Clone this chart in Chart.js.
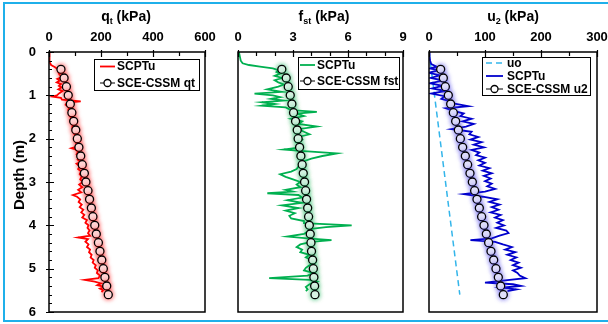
<!DOCTYPE html>
<html>
<head>
<meta charset="utf-8">
<script src="https://cdn.jsdelivr.net/npm/chart.js@4.4.0/dist/chart.umd.min.js"></script>
<style>
  html, body { margin: 0; padding: 0; background: #fff; }
  #wrap { position: relative; width: 608px; height: 324px; overflow: hidden;
          font-family: Arial, "Liberation Sans", sans-serif; font-weight: bold; color: #000; }
  #wrap canvas { position: absolute; left: 0; top: 0; }
  .frame { position: absolute; left: 3px; top: 2px; width: 615px; height: 320px;
           border: 2px solid #1fb0ea; box-sizing: border-box; pointer-events: none; }
  .ttl { position: absolute; top: 8px; font-size: 14px; line-height: 16px; white-space: nowrap;
         transform: translateX(-50%); }
  .ttl sub { font-size: 9px; vertical-align: -3px; line-height: 0; }
  .ylab { position: absolute; left: 18px; top: 175px; font-size: 15px; white-space: nowrap;
          transform: translate(-50%, -50%) rotate(-90deg); }
</style>
</head>
<body>
<div id="wrap">
  <canvas id="qtChart" width="608" height="324"></canvas>
  <canvas id="fstChart" width="608" height="324"></canvas>
  <canvas id="u2Chart" width="608" height="324"></canvas>
  <div class="ttl" style="left:126px">q<sub>t</sub> (kPa)</div>
  <div class="ttl" style="left:324px">f<sub>st</sub> (kPa)</div>
  <div class="ttl" style="left:513px">u<sub>2</sub> (kPa)</div>
  <div class="ylab">Depth (m)</div>
  <div class="frame"></div>
</div>
<script>
// --- data ---
// SCE-CSSM predictions, every 0.2 m
const cssmDepth = [0.4, 0.6, 0.8, 1.0, 1.2, 1.4, 1.6, 1.8, 2.0, 2.2, 2.4, 2.6, 2.8, 3.0, 3.2, 3.4, 3.6, 3.8, 4.0, 4.2, 4.4, 4.6, 4.8, 5.0, 5.2, 5.4, 5.6];
const cssmQt = [46, 58, 67, 74, 82, 88, 95, 103, 109, 115, 122, 128, 136, 142, 150, 156, 163, 169, 176, 182, 190, 196, 203, 209, 215, 222, 228];
const cssmFst = [2.39, 2.63, 2.74, 2.85, 2.94, 3.03, 3.14, 3.23, 3.28, 3.36, 3.43, 3.50, 3.56, 3.63, 3.69, 3.74, 3.80, 3.85, 3.89, 3.94, 3.98, 4.01, 4.07, 4.11, 4.14, 4.18, 4.20];
const cssmU2 = [20.8, 25.6, 29.2, 34.5, 38.7, 43.5, 47.6, 52.4, 56, 60.1, 64.9, 69, 73.2, 77.4, 81.5, 85.7, 89.9, 94, 98.2, 102.4, 106.5, 110.7, 115.5, 119.6, 123.8, 128, 132.7];

// SCPTu measurements
const qtDepth = [0, 0.05, 0.1, 0.15, 0.2, 0.25, 0.3, 0.34, 0.38, 0.42, 0.46, 0.52, 0.58, 0.62, 0.66, 0.7, 0.74, 0.78, 0.82, 0.86, 0.9, 0.95, 1.0, 1.03, 1.06, 1.1, 1.14, 1.17, 1.22, 1.28, 1.34, 1.4, 1.46, 1.52, 1.58, 1.64, 1.7, 1.76, 1.82, 1.88, 1.94, 2.0, 2.06, 2.12, 2.18, 2.22, 2.25, 2.3, 2.36, 2.42, 2.48, 2.54, 2.58, 2.64, 2.7, 2.76, 2.82, 2.88, 2.94, 3.0, 3.06, 3.12, 3.18, 3.24, 3.3, 3.34, 3.4, 3.46, 3.52, 3.58, 3.64, 3.7, 3.76, 3.82, 3.88, 3.94, 4.0, 4.06, 4.12, 4.18, 4.24, 4.28, 4.32, 4.38, 4.44, 4.5, 4.56, 4.62, 4.68, 4.74, 4.8, 4.86, 4.92, 4.98, 5.04, 5.1, 5.16, 5.22, 5.26, 5.3, 5.34, 5.38, 5.42, 5.46, 5.5, 5.54];
const qtScptu = [0, 1, 2, 2, 3, 4, 8, 20, 30, 44, 36, 40, 50, 32, 42, 30, 46, 38, 48, 36, 52, 40, 30, 14, 46, 50, 122, 70, 64, 78, 74, 82, 78, 86, 82, 88, 92, 90, 98, 96, 104, 100, 108, 104, 110, 86, 102, 112, 106, 116, 110, 120, 106, 118, 112, 124, 118, 126, 120, 130, 116, 128, 112, 124, 92, 108, 120, 114, 126, 118, 132, 124, 136, 128, 146, 140, 152, 148, 156, 150, 158, 112, 150, 140, 152, 146, 158, 154, 164, 160, 172, 168, 180, 176, 188, 184, 196, 190, 138, 176, 200, 186, 214, 196, 208, 202];

const fstDepth = [0, 0.1, 0.2, 0.26, 0.3, 0.34, 0.38, 0.42, 0.46, 0.5, 0.55, 0.6, 0.65, 0.7, 0.75, 0.8, 0.86, 0.92, 0.96, 1.0, 1.04, 1.08, 1.12, 1.16, 1.2, 1.24, 1.28, 1.34, 1.38, 1.42, 1.48, 1.54, 1.6, 1.66, 1.72, 1.78, 1.84, 1.9, 1.96, 2.02, 2.08, 2.14, 2.2, 2.25, 2.28, 2.34, 2.4, 2.46, 2.52, 2.58, 2.64, 2.7, 2.76, 2.82, 2.88, 2.94, 3.0, 3.06, 3.12, 3.18, 3.22, 3.26, 3.3, 3.36, 3.42, 3.48, 3.54, 3.6, 3.66, 3.72, 3.78, 3.84, 3.9, 3.95, 4.0, 4.04, 4.08, 4.14, 4.2, 4.26, 4.3, 4.34, 4.38, 4.44, 4.5, 4.56, 4.62, 4.68, 4.74, 4.8, 4.86, 4.92, 4.98, 5.04, 5.1, 5.16, 5.22, 5.26, 5.3, 5.36, 5.42, 5.48, 5.52];
const fstScptu = [0.05, 0.1, 0.15, 0.25, 0.6, 1.2, 1.9, 2.2, 2.1, 2.3, 2.0, 2.4, 2.0, 2.2, 2.5, 2.2, 1.6, 2.4, 0.9, 1.9, 2.3, 1.8, 2.5, 1.3, 2.0, 1.3, 2.6, 2.9, 4.3, 3.2, 3.6, 2.9, 3.5, 3.3, 4.3, 3.3, 3.6, 3.9, 3.3, 3.5, 3.2, 3.5, 3.4, 2.5, 3.4, 5.4, 4.6, 4.0, 3.6, 3.5, 3.3, 3.2, 2.9, 2.3, 2.6, 3.0, 3.4, 3.2, 3.4, 2.6, 3.0, 1.6, 3.3, 3.5, 2.7, 3.5, 2.4, 3.3, 2.6, 3.1, 2.8, 2.9, 3.6, 3.6, 6.2, 4.8, 4.0, 3.8, 3.6, 2.7, 3.8, 5.1, 4.0, 3.4, 3.2, 3.5, 3.4, 3.9, 3.7, 4.0, 4.2, 3.9, 3.7, 3.6, 4.1, 3.8, 1.7, 3.9, 4.3, 3.9, 3.7, 3.8, 3.7];

const u2Depth = [0, 0.1, 0.2, 0.28, 0.34, 0.38, 0.42, 0.48, 0.54, 0.6, 0.66, 0.72, 0.78, 0.84, 0.9, 0.96, 1.02, 1.08, 1.14, 1.2, 1.25, 1.3, 1.36, 1.42, 1.48, 1.54, 1.6, 1.66, 1.72, 1.78, 1.84, 1.9, 1.96, 2.02, 2.08, 2.14, 2.2, 2.26, 2.32, 2.38, 2.44, 2.5, 2.56, 2.62, 2.68, 2.74, 2.8, 2.86, 2.92, 2.98, 3.04, 3.1, 3.16, 3.22, 3.28, 3.34, 3.4, 3.46, 3.52, 3.58, 3.64, 3.7, 3.76, 3.82, 3.88, 3.94, 4.0, 4.06, 4.12, 4.18, 4.24, 4.3, 4.34, 4.38, 4.44, 4.5, 4.56, 4.62, 4.68, 4.74, 4.8, 4.86, 4.92, 4.98, 5.04, 5.1, 5.16, 5.22, 5.28, 5.32, 5.36, 5.4, 5.44, 5.48, 5.52];
const u2Scptu = [0, 1, 2, 4, 14, 2, 18, 0, 20, 3, 26, 2, 24, 6, 30, 4, 28, 22, 38, 48, 70, 30, 44, 62, 56, 76, 60, 80, 66, 40, 76, 72, 88, 74, 94, 80, 98, 76, 90, 84, 100, 88, 100, 90, 108, 96, 112, 98, 110, 100, 112, 104, 118, 100, 62, 96, 122, 108, 126, 112, 124, 110, 128, 118, 132, 122, 134, 120, 138, 142, 126, 112, 74, 118, 132, 148, 136, 154, 140, 156, 146, 160, 150, 164, 150, 158, 162, 172, 128, 100, 150, 164, 130, 156, 140];

// hydrostatic pore pressure
const uoDepth = [0, 5.6];
const uoVal = [0, 55];

// axis ranges
const qtMax = 600, fstMax = 9, u2Max = 300, depthMax = 6;

function pts(depths, vals) {
    return depths.map((d, i) => ({ x: vals[i], y: d }));
}

const FONT = 'Arial, "Liberation Sans", sans-serif';

// glow under the CSSM series
const glowPlugin = {
    id: 'glow',
    beforeDatasetDraw(chart, args) {
        const ds = chart.data.datasets[args.index];
        if (!ds.glowColor) return;
        chart.ctx.save();
        chart.ctx.shadowColor = ds.glowColor;
        chart.ctx.shadowBlur = 5;
    },
    afterDatasetDraw(chart, args) {
        if (chart.data.datasets[args.index].glowColor) chart.ctx.restore();
    }
};

// box round the plot + inside tick marks
const frameTicks = {
    id: 'frameTicks',
    afterDatasetsDraw(chart, args, o) {
        const { ctx, chartArea: a, scales } = chart;
        ctx.save();
        ctx.strokeStyle = '#000';
        ctx.lineWidth = 1.5;
        ctx.strokeRect(a.left, a.top, a.right - a.left, a.bottom - a.top);
        ctx.lineWidth = 1.2;
        ctx.beginPath();
        const xs = scales.x;
        const nx = Math.round((xs.max - xs.min) / o.xMinor);
        for (let i = 0; i <= nx; i++) {
            const px = Math.round(xs.getPixelForValue(xs.min + i * o.xMinor)) + 0.5;
            const major = i % o.xEvery === 0;
            ctx.moveTo(px, a.top - (major ? 2 : 0));
            ctx.lineTo(px, a.top + (major ? 5 : 4));
        }
        if (o.yTicks) {
            const ys = scales.y;
            for (let i = 0; i <= 30; i++) {
                const py = Math.round(ys.getPixelForValue(i * 0.2)) + 0.5;
                const major = i % 5 === 0;
                ctx.moveTo(a.left - (major ? 3 : 0), py);
                ctx.lineTo(a.left + (major ? 5 : 3), py);
            }
        }
        ctx.stroke();
        ctx.restore();
    }
};

// legend drawn as a box inside the plot
const boxLegend = {
    id: 'boxLegend',
    afterDraw(chart, args, o) {
        const ctx = chart.ctx;
        ctx.save();
        ctx.fillStyle = '#fff';
        ctx.fillRect(o.x, o.y, o.w, o.h);
        ctx.strokeStyle = '#000';
        ctx.lineWidth = 1;
        ctx.strokeRect(o.x + 0.5, o.y + 0.5, o.w, o.h);
        ctx.font = 'bold 12px ' + FONT;
        ctx.textBaseline = 'middle';
        chart.data.datasets.forEach((ds, i) => {
            const y = o.rows[i];
            ctx.strokeStyle = ds.borderColor;
            ctx.lineWidth = ds.borderWidth;
            ctx.setLineDash(ds.borderDash || []);
            ctx.beginPath();
            ctx.moveTo(o.x0, y);
            ctx.lineTo(o.x1, y);
            ctx.stroke();
            ctx.setLineDash([]);
            if (ds.pointRadius > 0) {
                ctx.beginPath();
                ctx.arc((o.x0 + o.x1) / 2, y, 3.5, 0, Math.PI * 2);
                ctx.fillStyle = ds.pointBackgroundColor;
                ctx.fill();
                ctx.lineWidth = ds.pointBorderWidth;
                ctx.strokeStyle = ds.pointBorderColor;
                ctx.stroke();
            }
            ctx.fillStyle = '#000';
            ctx.fillText(ds.label, o.tx, y + 0.5);
        });
        ctx.restore();
    }
};

function measured(label, depths, vals, color) {
    return {
        label: label, data: pts(depths, vals), showLine: true,
        borderColor: color, borderWidth: 1.8, pointRadius: 0, order: 1
    };
}

function predicted(label, depths, vals, glow) {
    return {
        label: label, data: pts(depths, vals), showLine: true,
        borderColor: '#000', borderWidth: 1, pointRadius: 4,
        pointBackgroundColor: '#fff', pointBorderColor: '#000', pointBorderWidth: 1.3,
        order: 0, glowColor: glow
    };
}

function makePanel(id, cfg) {
    return new Chart(document.getElementById(id), {
        type: 'scatter',
        data: { datasets: cfg.datasets },
        options: {
            responsive: false,
            animation: false,
            events: [],
            layout: { padding: { left: cfg.padLeft, right: cfg.padRight, top: 0, bottom: 12 } },
            plugins: {
                legend: { display: false },
                tooltip: { enabled: false },
                boxLegend: cfg.legend,
                frameTicks: cfg.ticks
            },
            scales: {
                x: {
                    type: 'linear', position: 'top', min: 0, max: cfg.xMax,
                    ticks: { stepSize: cfg.xStep, color: '#000', padding: 7,
                             font: { family: FONT, size: 13, weight: 'bold' } },
                    grid: { display: false, drawTicks: false },
                    border: { display: false },
                    afterFit: s => { s.height = 52; s.paddingLeft = 0; s.paddingRight = 0; }
                },
                y: {
                    type: 'linear', position: 'left', reverse: true, min: 0, max: depthMax,
                    display: cfg.showDepth,
                    ticks: { stepSize: 1, color: '#000', padding: 13,
                             font: { family: FONT, size: 13, weight: 'bold' } },
                    grid: { display: false, drawTicks: false },
                    border: { display: false },
                    afterFit: s => { s.width = cfg.showDepth ? 49 : 0; s.paddingTop = 0; s.paddingBottom = 0; }
                }
            }
        },
        plugins: [glowPlugin, frameTicks, boxLegend]
    });
}

makePanel('qtChart', {
    padLeft: 0, padRight: 403, xMax: qtMax, xStep: 200, showDepth: true,
    ticks: { xMinor: 100, xEvery: 2, yTicks: true },
    legend: { x: 94, y: 59, w: 105, h: 31, rows: [66.5, 83], x0: 100, x1: 115, tx: 117 },
    datasets: [
        measured('SCPTu', qtDepth, qtScptu, '#ff0000'),
        predicted('SCE-CSSM qt', cssmDepth, cssmQt, 'rgba(255,0,0,0.75)')
    ]
});

makePanel('fstChart', {
    padLeft: 238, padRight: 205, xMax: fstMax, xStep: 3, showDepth: false,
    ticks: { xMinor: 1, xEvery: 3, yTicks: false },
    legend: { x: 298, y: 57, w: 101, h: 32, rows: [65, 81], x0: 300, x1: 315, tx: 317 },
    datasets: [
        measured('SCPTu', fstDepth, fstScptu, '#00b050'),
        predicted('SCE-CSSM fst', cssmDepth, cssmFst, 'rgba(0,176,80,0.75)')
    ]
});

makePanel('u2Chart', {
    padLeft: 429, padRight: 11, xMax: u2Max, xStep: 100, showDepth: false,
    ticks: { xMinor: 50, xEvery: 2, yTicks: false },
    legend: { x: 482, y: 57, w: 108, h: 38, rows: [63, 76, 89], x0: 486, x1: 503, tx: 507 },
    datasets: [
        { label: 'uo', data: pts(uoDepth, uoVal), showLine: true, borderColor: '#33b5ea',
          borderWidth: 1.5, borderDash: [6, 4], pointRadius: 0, order: 2 },
        measured('SCPTu', u2Depth, u2Scptu, '#0000cc'),
        predicted('SCE-CSSM u2', cssmDepth, cssmU2, 'rgba(70,60,230,0.75)')
    ]
});
</script>
</body>
</html>
